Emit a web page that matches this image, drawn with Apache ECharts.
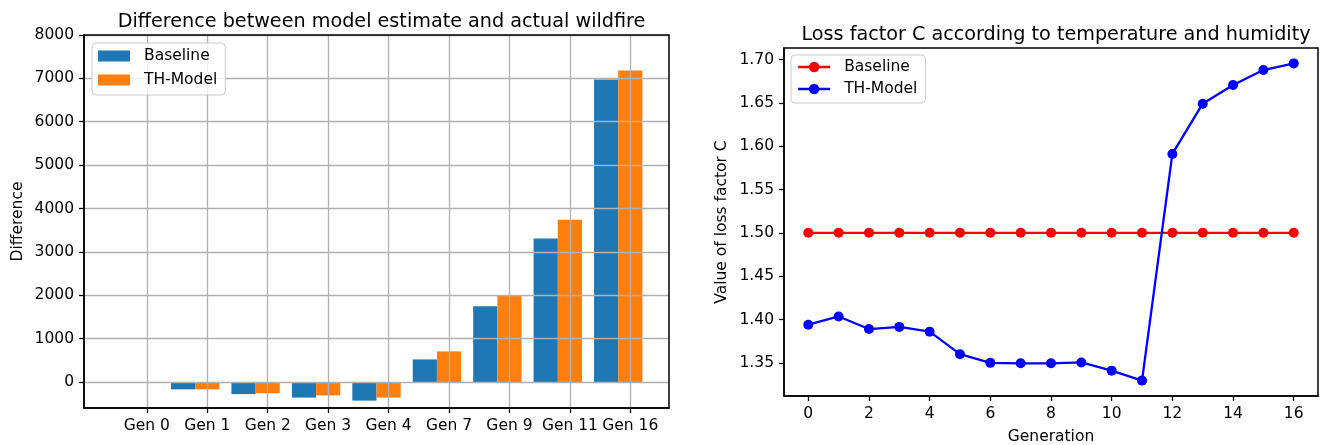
<!DOCTYPE html>
<html><head><meta charset="utf-8">
<script src="https://cdn.jsdelivr.net/npm/echarts@6/dist/echarts.min.js"></script>
<style>html,body{margin:0;padding:0;background:#fff}#c{width:1322px;height:445px}</style>
</head><body><div id="c"></div>
<script>
// ---- data ----
const genLabels = ['Gen 0', 'Gen 1', 'Gen 2', 'Gen 3', 'Gen 4', 'Gen 7', 'Gen 9', 'Gen 11', 'Gen 16'];
const baselineDiff = [0, -170, -280, -360, -430, 520, 1745, 3310, 6975];
const thModelDiff = [0, -170, -260, -310, -360, 705, 1980, 3740, 7180];
const diffTicks = [0, 1000, 2000, 3000, 4000, 5000, 6000, 7000, 8000];

const generations = [0, 1, 2, 3, 4, 5, 6, 7, 8, 9, 10, 11, 12, 13, 14, 15, 16];
const baselineC = [1.5, 1.5, 1.5, 1.5, 1.5, 1.5, 1.5, 1.5, 1.5, 1.5, 1.5, 1.5, 1.5, 1.5, 1.5, 1.5, 1.5];
const thModelC = [1.394, 1.4035, 1.389, 1.3915, 1.386, 1.360, 1.350, 1.3495, 1.3495, 1.3505, 1.341, 1.3295, 1.591, 1.649, 1.6705, 1.6878, 1.6955];
const lossTicks = [1.35, 1.40, 1.45, 1.50, 1.55, 1.60, 1.65, 1.70];
const genTicks = [0, 2, 4, 6, 8, 10, 12, 14, 16];

// ---- chart ----
const FONT = 'DejaVu Sans';
const BAR_W = 0.4;
const chart = echarts.init(document.getElementById('c'), null, { renderer: 'canvas' });

function barRenderer(offset) {
  return function (params, api) {
    const x = api.value(0), v = api.value(1);
    const a = api.coord([x + offset - BAR_W / 2, v]);
    const b = api.coord([x + offset + BAR_W / 2, 0]);
    return {
      type: 'rect',
      shape: { x: a[0], y: Math.min(a[1], b[1]), width: b[0] - a[0], height: Math.abs(b[1] - a[1]) },
      style: { fill: api.visual('color') }
    };
  };
}

const tickLabel = { color: '#000', fontFamily: FONT, fontSize: 15.5, margin: 10 };
const tickStyle = { show: true, inside: false, length: 5, lineStyle: { color: '#000', width: 1.3 } };
const axisLineStyle = { show: true, onZero: false, lineStyle: { color: '#000', width: 1.5 } };
const legendBase = {
  orient: 'vertical', itemWidth: 32, itemHeight: 11, itemGap: 6,
  padding: [4, 8, 6, 6], borderColor: '#cccccc', borderWidth: 1, borderRadius: 4,
  backgroundColor: 'rgba(255,255,255,0.8)',
  textStyle: { color: '#000', fontFamily: FONT, fontSize: 15.5, lineHeight: 18, padding: [0, 0, 0, 9] }
};

const option = {
  animation: false,
  backgroundColor: '#fff',
  title: [
    { text: 'Difference between model estimate and actual wildfire', left: 376.5, top: 8, textAlign: 'center',
      textStyle: { fontFamily: FONT, fontSize: 19.2, fontWeight: 'normal', color: '#000' } },
    { text: 'Loss factor C according to temperature and humidity', left: 1051, top: 21, textAlign: 'center',
      textStyle: { fontFamily: FONT, fontSize: 19.2, fontWeight: 'normal', color: '#000' } }
  ],
  legend: [
    Object.assign({}, legendBase, { left: 92, top: 43,
      data: [{ name: 'Baseline', icon: 'rect' }, { name: 'TH-Model', icon: 'rect' }] }),
    Object.assign({}, legendBase, { left: 791, top: 55, itemHeight: 13, itemGap: 4,
      padding: [3, 8, 5, 6],
      lineStyle: { width: 2.3 },
      data: ['Baseline C', 'TH-Model C'],
      formatter: n => n.replace(' C', '') })
  ],
  grid: [
    { left: 84, top: 35, width: 585, height: 373, show: true, z: 5, outerBoundsMode: 'none', containLabel: false,
      backgroundColor: 'transparent', borderColor: '#000', borderWidth: 1.5 },
    { left: 784, top: 48, width: 534, height: 348, show: true, z: 5, outerBoundsMode: 'none', containLabel: false,
      backgroundColor: 'transparent', borderColor: '#000', borderWidth: 1.5 }
  ],
  xAxis: [
    { type: 'value', gridIndex: 0, min: -1.04, max: 8.64, z: 3,
      axisLine: axisLineStyle,
      axisTick: Object.assign({}, tickStyle, { customValues: genLabels.map((_, i) => i) }),
      axisLabel: Object.assign({}, tickLabel, { customValues: genLabels.map((_, i) => i), formatter: v => genLabels[v] }),
      splitLine: { show: true, lineStyle: { color: '#b0b0b0', width: 1.3 } } },
    { type: 'value', gridIndex: 1, min: -0.8, max: 16.8,
      name: 'Generation', nameLocation: 'middle', nameGap: 33,
      nameTextStyle: { fontFamily: FONT, fontSize: 15.5, color: '#000' },
      axisLine: axisLineStyle,
      axisTick: Object.assign({}, tickStyle, { customValues: genTicks }),
      axisLabel: Object.assign({}, tickLabel, { customValues: genTicks, formatter: v => String(v) }),
      splitLine: { show: false } }
  ],
  yAxis: [
    { type: 'value', gridIndex: 0, min: -600, max: 8000, z: 3,
      name: 'Difference', nameLocation: 'middle', nameGap: 58,
      nameTextStyle: { fontFamily: FONT, fontSize: 15.5, color: '#000' },
      axisLine: axisLineStyle,
      axisTick: Object.assign({}, tickStyle, { customValues: diffTicks }),
      axisLabel: Object.assign({}, tickLabel, { customValues: diffTicks, formatter: v => String(v) }),
      splitLine: { show: true, lineStyle: { color: '#b0b0b0', width: 1.3 } } },
    { type: 'value', gridIndex: 1, min: 1.31175, max: 1.71325,
      name: 'Value of loss factor C', nameLocation: 'middle', nameGap: 54,
      nameTextStyle: { fontFamily: FONT, fontSize: 15.5, color: '#000' },
      axisLine: axisLineStyle,
      axisTick: Object.assign({}, tickStyle, { customValues: lossTicks }),
      axisLabel: Object.assign({}, tickLabel, { customValues: lossTicks, formatter: v => v.toFixed(2) }),
      splitLine: { show: false } }
  ],
  series: [
    { name: 'Baseline', type: 'custom', xAxisIndex: 0, yAxisIndex: 0, z: 2,
      itemStyle: { color: '#1f77b4' }, renderItem: barRenderer(-0.4), encode: { x: 0, y: 1 },
      data: baselineDiff.map((v, i) => [i, v]) },
    { name: 'TH-Model', type: 'custom', xAxisIndex: 0, yAxisIndex: 0, z: 2,
      itemStyle: { color: '#ff7f0e' }, renderItem: barRenderer(0), encode: { x: 0, y: 1 },
      data: thModelDiff.map((v, i) => [i, v]) },
    { name: 'Baseline C', type: 'line', xAxisIndex: 1, yAxisIndex: 1,
      symbol: 'circle', symbolSize: 10, showAllSymbol: true,
      itemStyle: { color: '#ff0000' }, lineStyle: { color: '#ff0000', width: 2.3 },
      data: generations.map((g, i) => [g, baselineC[i]]) },
    { name: 'TH-Model C', type: 'line', xAxisIndex: 1, yAxisIndex: 1,
      symbol: 'circle', symbolSize: 10, showAllSymbol: true,
      itemStyle: { color: '#0000ff' }, lineStyle: { color: '#0000ff', width: 2.3 },
      data: generations.map((g, i) => [g, thModelC[i]]) }
  ]
};
chart.setOption(option);
</script>
</body></html>
